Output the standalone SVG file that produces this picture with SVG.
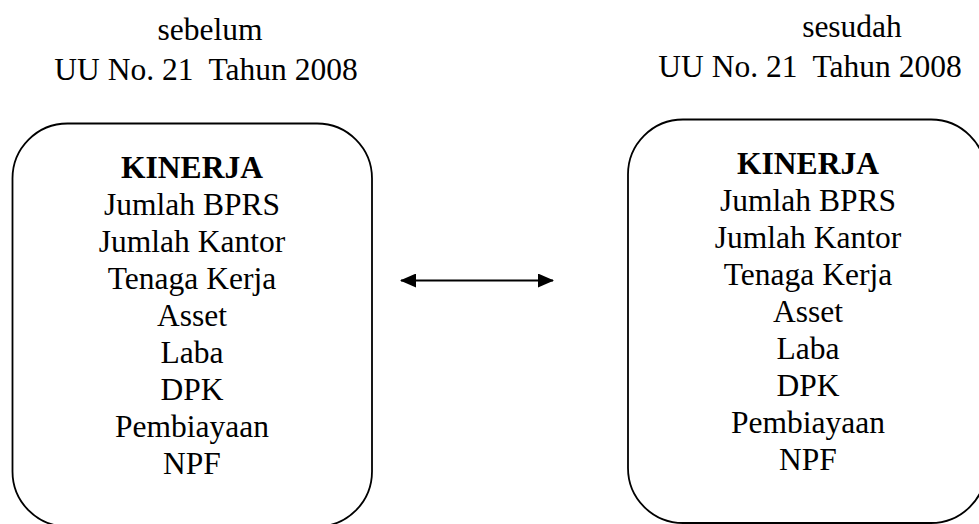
<svg xmlns="http://www.w3.org/2000/svg" width="979" height="524" viewBox="0 0 979 524">
<style>
.t{font-family:"Liberation Serif","Times New Roman",serif;font-size:31.5px;fill:#000;text-anchor:middle}
.b{font-weight:bold}
.box{fill:none;stroke:#000;stroke-width:1.8}
</style>
<defs>
<marker id="ah" viewBox="0 0 16 14" refX="15" refY="7" markerWidth="16" markerHeight="14" markerUnits="userSpaceOnUse" orient="auto-start-reverse">
<path d="M0,0 L16,7 L0,14 Z" fill="#000"/>
</marker>
</defs>
<rect width="979" height="524" fill="#fff"/>
<g id="header-left">
<text class="t" x="210" y="40">sebelum</text>
<text class="t" x="206" y="80" xml:space="preserve">UU No. 21  Tahun 2008</text>
</g>
<g id="header-right">
<text class="t" x="852" y="37">sesudah</text>
<text class="t" x="810" y="77" xml:space="preserve">UU No. 21  Tahun 2008</text>
</g>
<g id="node-left">
<rect class="box" x="12.5" y="123.5" width="359.5" height="403" rx="55" ry="55"/>
<text class="t b" x="192" y="178">KINERJA</text>
<text class="t" x="192" y="215">Jumlah BPRS</text>
<text class="t" x="192" y="252">Jumlah Kantor</text>
<text class="t" x="192" y="289">Tenaga Kerja</text>
<text class="t" x="192" y="326">Asset</text>
<text class="t" x="192" y="363">Laba</text>
<text class="t" x="192" y="400">DPK</text>
<text class="t" x="192" y="437">Pembiayaan</text>
<text class="t" x="192" y="474">NPF</text>
</g>
<g id="node-right">
<rect class="box" x="628" y="119.5" width="358" height="403.5" rx="55" ry="55"/>
<text class="t b" x="808" y="174">KINERJA</text>
<text class="t" x="808" y="211">Jumlah BPRS</text>
<text class="t" x="808" y="248">Jumlah Kantor</text>
<text class="t" x="808" y="285">Tenaga Kerja</text>
<text class="t" x="808" y="322">Asset</text>
<text class="t" x="808" y="359">Laba</text>
<text class="t" x="808" y="396">DPK</text>
<text class="t" x="808" y="433">Pembiayaan</text>
<text class="t" x="808" y="470">NPF</text>
</g>
<g id="connectors">
<line x1="401" y1="280.5" x2="553" y2="280.5" stroke="#000" stroke-width="2.2" marker-start="url(#ah)" marker-end="url(#ah)"/>
</g>
</svg>
